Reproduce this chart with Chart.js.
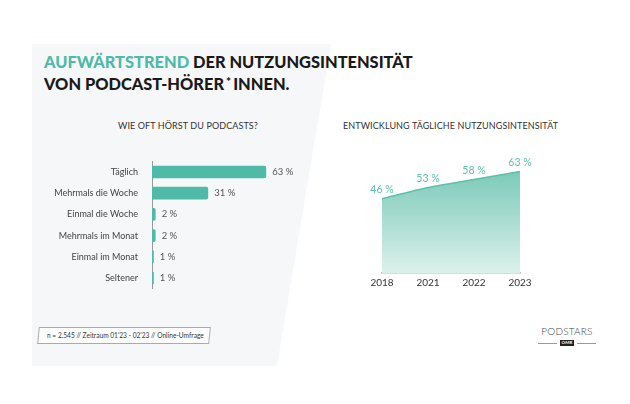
<!DOCTYPE html>
<html>
<head>
<meta charset="utf-8">
<script src="https://cdn.jsdelivr.net/npm/chart.js@4/dist/chart.umd.min.js"></script>
<style>
    body { margin: 0; background: #fff; font-family: Lato, sans-serif; }
    #stage { position: relative; width: 630px; height: 404px; overflow: hidden; }
    .panel {
        position: absolute; left: 0; top: 0; width: 630px; height: 404px;
        background: #f6f7f9;
        clip-path: polygon(32px 44px, 331px 44px, 277px 366px, 32px 366px);
    }
    .title {
        position: absolute; left: 44px; top: 52px;
        font-family: Lato, sans-serif; font-weight: 900; font-size: 16.4px;
        line-height: 20px; color: #1a1a1a;
    }
    .title .hl { color: #4fbaa7; }
    .title .star { font-size: 12px; vertical-align: 4px; margin: 0 2px; }
    .sub {
        position: absolute; top: 120px; font-size: 9px; color: #333;
        letter-spacing: 0.1px;
    }
    .note {
        position: absolute; left: 38px; top: 327px; width: 170px; height: 15px;
        border: 1px solid #aaa; transform: skewX(-6deg); background: #fff;
    }
    .note span {
        display: block; transform: skewX(6deg); font-size: 6.6px; color: #333;
        line-height: 15px; padding-left: 8px; white-space: nowrap;
    }
    .logo { position: absolute; left: 538px; top: 326px; width: 58px; text-align: center; }
    .logo .name { font-size: 10px; color: #444; font-weight: 300; letter-spacing: 0.2px; line-height: 11px; }
    .logo .bar { display: flex; align-items: center; margin-top: 3px; }
    .logo .bar i { flex: 1; border-top: 1px solid #999; }
    .logo .bar b {
        background: #222; color: #fff; font-size: 4.5px; padding: 0 2px;
        line-height: 6px; margin: 0 3px; font-style: normal;
    }
    canvas { position: absolute; }
</style>
</head>
<body>
<div id="stage">
    <div class="panel"></div>
    <div class="title"><span class="hl">AUFWÄRTSTREND</span> DER NUTZUNGSINTENSITÄT<br>VON PODCAST-HÖRER<span class="star">*</span>INNEN.</div>
    <div class="sub" style="left:118px">WIE OFT HÖRST DU PODCASTS?</div>
    <div class="sub" style="left:343px">ENTWICKLUNG TÄGLICHE NUTZUNGSINTENSITÄT</div>
    <canvas id="barChart" style="left:40px; top:150px; width:257px; height:150px"></canvas>
    <canvas id="areaChart" style="left:340px; top:138px; width:220px; height:159px"></canvas>
    <div class="note"><span>n = 2.545 // Zeitraum 01'23 - 02'23 // Online-Umfrage</span></div>
    <div class="logo"><div class="name">PODSTARS</div><div class="bar"><i></i><b>OMR</b><i></i></div></div>
</div>
<script>
// Data
const frequencyLabels = ['Täglich', 'Mehrmals die Woche', 'Einmal die Woche', 'Mehrmals im Monat', 'Einmal im Monat', 'Seltener'];
const frequencyValues = [63, 31, 2, 2, 1, 1];
const years = ['2018', '2021', '2022', '2023'];
const dailyValues = [46, 53, 58, 63];

const teal = '#4fbaa7';
const font = 'Lato, sans-serif';

// Draws "NN %" labels next to bars / above points
const valueLabels = {
    id: 'valueLabels',
    afterDatasetsDraw(chart, args, opts) {
        const ctx = chart.ctx;
        const meta = chart.getDatasetMeta(0);
        const data = chart.data.datasets[0].data;
        ctx.save();
        ctx.font = opts.font;
        ctx.fillStyle = opts.color;
        meta.data.forEach((el, i) => {
            const text = data[i] + ' %';
            if (opts.mode === 'bar') {
                ctx.textAlign = 'left';
                ctx.textBaseline = 'middle';
                ctx.fillText(text, el.x + 6, el.y);
            } else {
                ctx.textAlign = 'center';
                ctx.textBaseline = 'bottom';
                ctx.fillText(text, el.x, el.y - 4);
            }
        });
        ctx.restore();
    }
};

new Chart(document.getElementById('barChart'), {
    type: 'bar',
    data: {
        labels: frequencyLabels,
        datasets: [{
            data: frequencyValues,
            backgroundColor: teal,
            borderRadius: { topRight: 2, bottomRight: 2 },
            borderSkipped: 'left',
            barPercentage: 0.6,
            categoryPercentage: 1
        }]
    },
    options: {
        indexAxis: 'y',
        responsive: false,
        animation: false,
        layout: { padding: { top: 4.5, bottom: 5.5 } },
        scales: {
            x: { display: false, min: 0, max: 80 },
            y: {
                grid: { display: false },
                border: { display: true, color: '#999', width: 1 },
                ticks: { color: '#444', font: { family: font, size: 9 }, padding: 6 },
                afterFit: (scale) => { scale.width = 112; }
            }
        },
        plugins: {
            legend: { display: false },
            tooltip: { enabled: false },
            valueLabels: { mode: 'bar', font: '9.5px ' + font, color: '#555' }
        }
    },
    plugins: [valueLabels]
});

new Chart(document.getElementById('areaChart'), {
    type: 'line',
    data: {
        labels: years,
        datasets: [{
            data: dailyValues,
            borderColor: '#5cc0ad',
            borderWidth: 1.5,
            pointRadius: 0,
            tension: 0.25,
            fill: 'origin',
            backgroundColor: (c) => {
                const area = c.chart.chartArea;
                if (!area) return '#9dd8cb';
                const y0 = c.chart.scales.y.getPixelForValue(63);
                const g = c.chart.ctx.createLinearGradient(0, y0, 0, area.bottom);
                g.addColorStop(0, '#7ccab9');
                g.addColorStop(1, '#dcf1ec');
                return g;
            }
        }]
    },
    options: {
        responsive: false,
        animation: false,
        layout: { padding: { top: 6, left: 42, right: 40 } },
        scales: {
            x: {
                offset: false,
                grid: { display: false, drawTicks: false },
                border: { display: true, color: '#b5b5b5', width: 1.5 },
                ticks: { color: '#333', font: { family: font, size: 10 }, padding: 4 },
                afterFit: (scale) => { scale.height = 24; }
            },
            y: { display: false, min: 0, max: 80 }
        },
        plugins: {
            legend: { display: false },
            tooltip: { enabled: false },
            valueLabels: { mode: 'line', font: '10.5px ' + font, color: '#5cc0ad' }
        }
    },
    plugins: [valueLabels]
});
</script>
</body>
</html>
